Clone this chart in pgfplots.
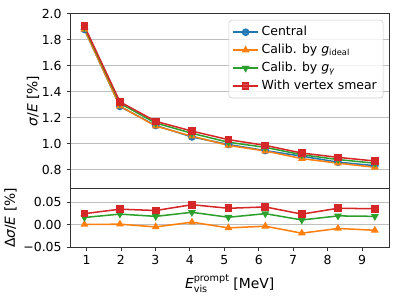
\documentclass[border=0pt]{standalone}
\usepackage{fontspec}
\setmainfont{DejaVu Sans}
\usepackage{pgfplots}
\pgfplotsset{compat=1.18}
\definecolor{cA}{HTML}{1F77B4}
\definecolor{cB}{HTML}{FF7F0E}
\definecolor{cC}{HTML}{2CA02C}
\definecolor{cD}{HTML}{D62728}
\newcommand\tkf{\fontsize{9}{11}\selectfont}
\newcommand\lgf{\fontsize{9}{11}\selectfont}
\newcommand\lbf{\fontsize{10}{12}\selectfont}
\newcommand\sub[1]{{\fontsize{7}{8}\selectfont #1}}
\pgfplotsset{
  every axis/.append style={
    scale only axis, tick align=outside, tick pos=left,
    major tick length=2.5pt,
    axis line style={line width=0.6pt, black!80},
    every tick/.style={black!80, line width=0.6pt},
    ymajorgrids, major grid style={line width=0.6pt, black!25},
    tick label style={font=\tkf},
    label style={font=\lbf},
    /pgf/number format/assume math mode=true,
    scaled y ticks=false,
    xmin=0.52, xmax=9.79,
  },
  ser/.style={color=#1, line width=1.1pt, mark size=2.2pt, mark options={solid, fill=#1, draw=#1}},
}
\begin{document}
\begin{tikzpicture}
\useasboundingbox (0,0) rectangle (288pt,216pt);
\begin{axis}[
  at={(50.5pt,79.9pt)}, anchor=south west,
  width=230.5pt, height=126.2pt,
  ymin=0.655, ymax=2.0,
  ytick={0.8,1.0,1.2,1.4,1.6,1.8,2.0},
  yticklabel style={/pgf/number format/fixed, /pgf/number format/fixed zerofill, /pgf/number format/precision=1},
  xtick=\empty,
  ylabel={{\itshape σ}/{\itshape E} [\%]},
  ylabel style={yshift=-5pt},
  legend style={at={(1,1)}, anchor=north east, xshift=-4.3pt, yshift=-4.5pt,
    font=\lgf, draw=black!20, rounded corners=2pt, fill=white, fill opacity=0.8, text opacity=1,
    row sep=0.6pt, inner sep=2.5pt},
  legend cell align=left,
  legend image code/.code={\draw[mark repeat=2,mark phase=2] plot coordinates {(0pt,0pt)(9pt,0pt)(18pt,0pt)};},
]
\addplot[ser=cA, mark=*] coordinates {(0.94,1.879)(1.97,1.287)(3.01,1.140)(4.06,1.052)(5.12,0.994)(6.19,0.947)(7.25,0.904)(8.30,0.858)(9.37,0.831)};
\addlegendentry{Central}
\addplot[ser=cB, mark=triangle*] coordinates {(0.94,1.880)(1.97,1.2885)(3.01,1.1355)(4.06,1.058)(5.12,0.987)(6.19,0.944)(7.25,0.8855)(8.30,0.850)(9.37,0.819)};
\addlegendentry{Calib. by {\itshape g}\textsubscript{ideal}}
\addplot[ser=cC, mark=triangle*, mark options={rotate=180}] coordinates {(0.94,1.8955)(1.97,1.311)(3.01,1.159)(4.06,1.080)(5.12,1.011)(6.19,0.972)(7.25,0.915)(8.30,0.878)(9.37,0.850)};
\addlegendentry{Calib. by {\itshape g}\textsubscript{\itshape γ}}
\addplot[ser=cD, mark=square*] coordinates {(0.94,1.904)(1.97,1.322)(3.01,1.172)(4.06,1.097)(5.12,1.031)(6.19,0.987)(7.25,0.928)(8.30,0.895)(9.37,0.867)};
\addlegendentry{With vertex smear}
\end{axis}
\begin{axis}[
  at={(50.5pt,37.5pt)}, anchor=south west,
  width=230.5pt, height=42.4pt,
  ymin=-0.05, ymax=0.081,
  ytick={-0.05,0,0.05}, yticklabels={−0.05,0.00,0.05},
  xtick={1,2,3,4,5,6,7,8,9},
  ylabel={Δ{\itshape σ}/{\itshape E} [\%]},
  ylabel style={yshift=-2pt},
  xlabel={{\itshape E}\makebox[0pt][l]{\raisebox{-0.5ex}{\sub{vis}}}\raisebox{0.95ex}{\sub{prompt}} [MeV]},
]
\addplot[ser=cB, mark=triangle*] coordinates {(0.94,0.001)(1.97,0.0015)(3.01,-0.0045)(4.06,0.006)(5.12,-0.0067)(6.19,-0.003)(7.25,-0.0185)(8.30,-0.008)(9.37,-0.012)};
\addplot[ser=cC, mark=triangle*, mark options={rotate=180}] coordinates {(0.94,0.0165)(1.97,0.024)(3.01,0.019)(4.06,0.028)(5.12,0.017)(6.19,0.025)(7.25,0.011)(8.30,0.020)(9.37,0.019)};
\addplot[ser=cD, mark=square*] coordinates {(0.94,0.025)(1.97,0.035)(3.01,0.032)(4.06,0.045)(5.12,0.037)(6.19,0.040)(7.25,0.024)(8.30,0.037)(9.37,0.036)};
\end{axis}
\end{tikzpicture}
\end{document}
